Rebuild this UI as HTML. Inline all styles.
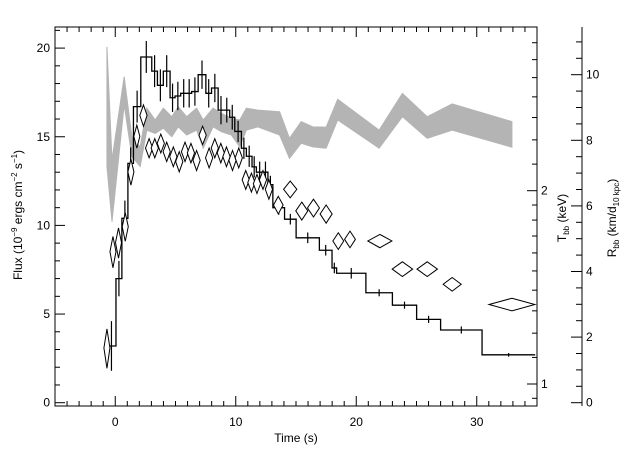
<!DOCTYPE html>
<html><head><meta charset="utf-8"><style>
html,body{margin:0;padding:0;background:#fff}
svg{display:block;font-family:"Liberation Sans",sans-serif}
text{font-size:12px;fill:#000}
</style></head><body>
<svg id="chart" width="640" height="457" viewBox="0 0 640 457" xmlns="http://www.w3.org/2000/svg">
<g id="band"></g>
<g id="hist"></g>
<g id="diam"></g>
<g id="axes"></g>
<text x="296" y="442" text-anchor="middle">Time (s)</text>
<text transform="translate(22,215) rotate(-90)" text-anchor="middle">Flux (10<tspan font-size="8" dy="-5">−9</tspan><tspan dy="5"> ergs cm</tspan><tspan font-size="8" dy="-5">−2</tspan><tspan dy="5"> s</tspan><tspan font-size="8" dy="-5">−1</tspan><tspan dy="5">)</tspan></text>
<text transform="translate(566,218) rotate(-90)" text-anchor="middle">T<tspan font-size="8" dy="3">bb</tspan><tspan dy="-3"> (keV)</tspan></text>
<text transform="translate(616,218) rotate(-90)" text-anchor="middle">R<tspan font-size="8" dy="3">bb</tspan><tspan dy="-3"> (km/d</tspan><tspan font-size="8" dy="3">10 kpc</tspan><tspan dy="-3">)</tspan></text>
</svg>
<script>
// flux histogram
const binEdges=[-0.69,0.06,0.55,1.05,1.51,2.12,3.03,3.50,3.99,4.55,4.96,5.43,5.93,6.34,6.88,7.52,7.99,8.54,9.01,9.50,9.92,10.47,10.88,11.35,11.71,12.26,12.67,13.08,14.05,15.01,16.94,17.99,18.37,20.80,23.00,25.01,27.00,30.44,34.85];
const fluxValues=[3.2,7.0,10.4,13.5,16.7,19.5,18.7,17.9,18.7,17.2,17.3,17.45,17.45,17.55,18.5,17.45,17.75,16.5,16.5,16.1,15.3,14.35,13.9,13.3,13.0,13.0,12.3,11.0,10.35,9.3,8.6,7.6,7.3,6.2,5.5,4.7,4.1,2.7];
const fluxErr=[1.4,1.0,1.0,0.9,0.9,0.9,0.9,0.9,0.9,0.8,0.8,0.8,0.8,0.8,0.8,0.8,0.8,0.8,0.7,0.7,0.6,0.6,0.6,0.6,0.6,0.6,0.5,0.4,0.3,0.3,0.3,0.3,0.3,0.2,0.2,0.2,0.2,0.1];
// temperature diamonds
const tempTimes=[-0.69,-0.19,0.27,0.83,1.30,1.79,2.34,2.81,3.28,3.78,4.27,4.82,5.31,5.79,6.28,6.75,7.25,7.79,8.26,8.76,9.23,9.73,10.25,10.83,11.30,11.76,12.26,12.75,13.53,14.52,15.48,16.45,17.50,18.51,19.48,21.96,23.83,25.89,27.96,32.92];
const tempTimeErr=[0.25,0.25,0.25,0.25,0.25,0.25,0.3,0.3,0.3,0.3,0.3,0.3,0.3,0.3,0.3,0.3,0.3,0.3,0.3,0.3,0.3,0.3,0.3,0.3,0.3,0.3,0.3,0.3,0.4,0.55,0.5,0.5,0.5,0.45,0.45,1.0,0.85,0.85,0.75,1.9];
const tempValues=[1.138,1.607,1.66,1.758,2.14,2.43,2.62,2.33,2.33,2.37,2.30,2.26,2.22,2.30,2.29,2.23,2.44,2.25,2.33,2.29,2.26,2.23,2.25,2.08,2.06,2.05,2.08,2.01,1.90,2.01,1.86,1.88,1.84,1.67,1.68,1.67,1.51,1.51,1.43,1.33];
const tempErr=[0.08,0.09,0.09,0.09,0.1,0.1,0.1,0.08,0.08,0.08,0.08,0.08,0.08,0.08,0.08,0.08,0.08,0.08,0.08,0.08,0.08,0.08,0.08,0.07,0.07,0.07,0.07,0.07,0.06,0.06,0.06,0.06,0.06,0.05,0.05,0.04,0.04,0.04,0.035,0.03];
// radius band
const radTimes=[-0.69,-0.27,0.74,1.38,2.07,2.62,3.31,3.99,4.69,5.23,5.93,6.75,7.30,8.12,8.82,9.64,10.33,10.88,11.84,13.64,14.46,15.43,16.39,17.50,18.46,21.90,23.83,25.89,27.96,32.92];
const radHigh=[10.85,7.40,9.94,8.11,7.80,8.98,8.62,8.98,8.72,9.02,8.72,8.98,8.62,8.98,8.82,8.67,8.62,8.98,8.92,8.87,8.06,8.57,8.41,8.40,9.25,8.31,9.43,8.72,9.11,8.57];
const radLow=[7.20,5.52,9.08,7.50,7.20,8.31,8.21,8.37,8.11,8.41,8.16,8.31,7.76,8.41,8.26,8.16,7.80,8.31,8.41,8.16,7.45,7.91,7.80,7.76,8.62,7.76,8.72,8.06,8.31,7.79];
const xTicks=[0,10,20,30];
const fluxTicks=[0,5,10,15,20];
const tTicks=[1,2];
const rTicks=[0,2,4,6,8,10];

const L=55,R=537,T=27,B=406;
const xS=t=>L+(t+5)/40*(R-L);
const yF=f=>402.7-f*17.73;
const yT=k=>384-Math.log2(k)*193.3;
const yR=r=>402.7-r*32.8;
const NS='http://www.w3.org/2000/svg';
function mk(tag,attrs,parent){const e=document.createElementNS(NS,tag);for(const k in attrs)e.setAttribute(k,attrs[k]);parent.appendChild(e);return e;}

// band
const band=document.getElementById('band');
let pts=radTimes.map((t,i)=>xS(t)+','+yR(radHigh[i]));
for(let i=radTimes.length-1;i>=0;i--)pts.push(xS(radTimes[i])+','+yR(radLow[i]));
const poly=mk('polygon',{points:pts.join(' '),fill:'#b4b4b4',stroke:'#b4b4b4','stroke-width':'1'},band);



// histogram
const hist=document.getElementById('hist');
let d='M'+xS(binEdges[0])+','+yF(fluxValues[0]);
fluxValues.forEach((v,i)=>{d+=' L'+xS(binEdges[i])+','+yF(v)+' L'+xS(binEdges[i+1])+','+yF(v);});
const hp=mk('path',{d:d,fill:'none',stroke:'#000','stroke-width':'1.3'},hist);


fluxValues.forEach((v,i)=>{
  const cx=xS((binEdges[i]+binEdges[i+1])/2);
  const eb=mk('line',{x1:cx,x2:cx,y1:yF(v+fluxErr[i]),y2:yF(v-fluxErr[i]),stroke:'#000','stroke-width':'1.2'},hist);
  
  
});

// diamonds
const diam=document.getElementById('diam');
tempValues.forEach((v,i)=>{
  const cx=xS(tempTimes[i]),x0=xS(tempTimes[i]-tempTimeErr[i]),x1=xS(tempTimes[i]+tempTimeErr[i]);
  const y0=yT(v+tempErr[i]),y1=yT(v-tempErr[i]),cy=yT(v);
  const p=mk('polygon',{points:`${cx},${y0} ${x1},${cy} ${cx},${y1} ${x0},${cy}`,fill:'#fff',stroke:'#000','stroke-width':'1'},diam);
  
  
});

// axes
const ax=document.getElementById('axes');
const frame=mk('rect',{x:L,y:T,width:R-L,height:B-T,fill:'none',stroke:'#000','stroke-width':'1'},ax);


function ln(x1,y1,x2,y2){mk('line',{x1,y1,x2,y2,stroke:'#000','stroke-width':'1'},ax);}
for(let t=-5;t<=35;t++){const x=xS(t);const len=(t%10===0)?10:5;ln(x,B,x,B-len);ln(x,T,x,T+len);}
xTicks.forEach(t=>{const e=mk('text',{x:xS(t),y:426,'text-anchor':'middle'},ax);e.textContent=t;
  });
for(let f=0;f<=21;f++){const y=yF(f);const len=(f%5===0)?10:5;ln(L,y,L+len,y);}
fluxTicks.forEach(f=>{const e=mk('text',{x:50,y:yF(f)+4,'text-anchor':'end'},ax);e.textContent=f;
  });
// T axis (right edge), log
[0.95,1,1.1,1.2,1.3,1.4,1.5,1.6,1.7,1.8,1.9,2,2.2,2.4,2.6,2.8,3,3.2,3.4].forEach(k=>{
  const y=yT(k);if(y<T||y>B)return;const len=(k===1||k===2)?10:5;ln(R,y,R-len,y);});
tTicks.forEach(k=>{const e=mk('text',{x:541,y:yT(k)+4},ax);e.textContent=k;
  });
// R axis
const RX=582;ln(RX,T,RX,B);
for(let r=0;r<=11;r+=0.5){const y=yR(r);const len=(r%2===0)?11:6;ln(RX,y,RX-len,y);}
rTicks.forEach(r=>{const e=mk('text',{x:586,y:yR(r)+4},ax);e.textContent=r;
  });
</script>
</body></html>
